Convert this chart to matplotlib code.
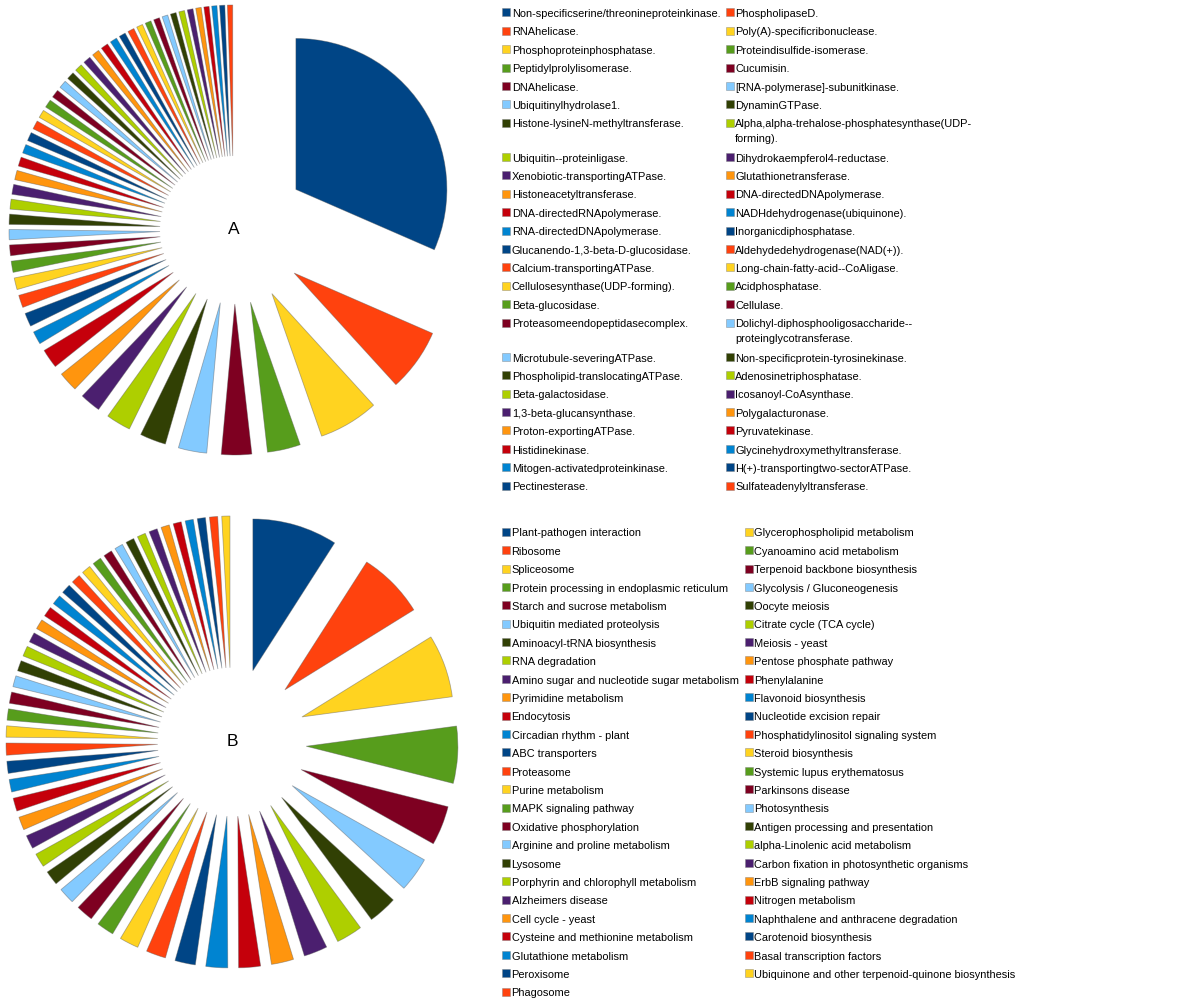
#!/usr/bin/env python3
"""Two exploded pie charts (A: enzymes, B: KEGG pathways) with side legends."""

import matplotlib

matplotlib.use("Agg")
import matplotlib.pyplot as plt
from matplotlib import font_manager
from matplotlib.patches import Rectangle

# LibreOffice default chart palette
PALETTE = [
    "#004586", "#ff420e", "#ffd320", "#579d1c", "#7e0021", "#83caff",
    "#314004", "#aecf00", "#4b1f6f", "#ff950e", "#c5000b", "#0084d1",
]

a_labels = [
    "Non-specificserine/threonineproteinkinase.",
    "RNAhelicase.",
    "Phosphoproteinphosphatase.",
    "Peptidylprolylisomerase.",
    "DNAhelicase.",
    "Ubiquitinylhydrolase1.",
    "Histone-lysineN-methyltransferase.",
    "Ubiquitin--proteinligase.",
    "Xenobiotic-transportingATPase.",
    "Histoneacetyltransferase.",
    "DNA-directedRNApolymerase.",
    "RNA-directedDNApolymerase.",
    "Glucanendo-1,3-beta-D-glucosidase.",
    "Calcium-transportingATPase.",
    "Cellulosesynthase(UDP-forming).",
    "Beta-glucosidase.",
    "Proteasomeendopeptidasecomplex.",
    "Microtubule-severingATPase.",
    "Phospholipid-translocatingATPase.",
    "Beta-galactosidase.",
    "1,3-beta-glucansynthase.",
    "Proton-exportingATPase.",
    "Histidinekinase.",
    "Mitogen-activatedproteinkinase.",
    "Pectinesterase.",
    "PhospholipaseD.",
    "Poly(A)-specificribonuclease.",
    "Proteindisulfide-isomerase.",
    "Cucumisin.",
    "[RNA-polymerase]-subunitkinase.",
    "DynaminGTPase.",
    "Alpha,alpha-trehalose-phosphatesynthase(UDP-\nforming).",
    "Dihydrokaempferol4-reductase.",
    "Glutathionetransferase.",
    "DNA-directedDNApolymerase.",
    "NADHdehydrogenase(ubiquinone).",
    "Inorganicdiphosphatase.",
    "Aldehydedehydrogenase(NAD(+)).",
    "Long-chain-fatty-acid--CoAligase.",
    "Acidphosphatase.",
    "Cellulase.",
    "Dolichyl-diphosphooligosaccharide--\nproteinglycotransferase.",
    "Non-specificprotein-tyrosinekinase.",
    "Adenosinetriphosphatase.",
    "Icosanoyl-CoAsynthase.",
    "Polygalacturonase.",
    "Pyruvatekinase.",
    "Glycinehydroxymethyltransferase.",
    "H(+)-transportingtwo-sectorATPase.",
    "Sulfateadenylyltransferase.",
]
a_values = [
    113, 24, 23, 12.7, 11.6, 10.9, 10, 9.5, 8, 7.6, 7.4, 5,
    5.2, 4.8, 4.5, 4.3, 4.1, 3.9, 3.9, 3.8, 3.8, 3.6,
    3.5, 3.4, 3.3, 3.3, 3.1, 3.1, 3.1, 3.0, 2.9, 2.9,
    2.9, 2.8, 2.8, 2.7, 2.5, 2.5, 2.4, 2.3, 2.3, 2.2,
    2.2, 2.2, 2.2, 2.1, 2.0, 2.0, 2.0, 2.0,
]

b_labels = [
    "Plant-pathogen interaction",
    "Ribosome",
    "Spliceosome",
    "Protein processing in endoplasmic reticulum",
    "Starch and sucrose metabolism",
    "Ubiquitin mediated proteolysis",
    "Aminoacyl-tRNA biosynthesis",
    "RNA degradation",
    "Amino sugar and nucleotide sugar metabolism",
    "Pyrimidine metabolism",
    "Endocytosis",
    "Circadian rhythm - plant",
    "ABC transporters",
    "Proteasome",
    "Purine metabolism",
    "MAPK signaling pathway",
    "Oxidative phosphorylation",
    "Arginine and proline metabolism",
    "Lysosome",
    "Porphyrin and chlorophyll metabolism",
    "Alzheimers disease",
    "Cell cycle - yeast",
    "Cysteine and methionine metabolism",
    "Glutathione metabolism",
    "Peroxisome",
    "Phagosome",
    "Glycerophospholipid metabolism",
    "Cyanoamino acid metabolism",
    "Terpenoid backbone biosynthesis",
    "Glycolysis / Gluconeogenesis",
    "Oocyte meiosis",
    "Citrate cycle (TCA cycle)",
    "Meiosis - yeast",
    "Pentose phosphate pathway",
    "Phenylalanine",
    "Flavonoid biosynthesis",
    "Nucleotide excision repair",
    "Phosphatidylinositol signaling system",
    "Steroid biosynthesis",
    "Systemic lupus erythematosus",
    "Parkinsons disease",
    "Photosynthesis",
    "Antigen processing and presentation",
    "alpha-Linolenic acid metabolism",
    "Carbon fixation in photosynthetic organisms",
    "ErbB signaling pathway",
    "Nitrogen metabolism",
    "Naphthalene and anthracene degradation",
    "Carotenoid biosynthesis",
    "Basal transcription factors",
    "Ubiquinone and other terpenoid-quinone biosynthesis",
]
b_values = [
    32.4, 25.4, 24, 21.7, 15, 13.2, 11, 10, 9, 8.5, 8.3, 8.3,
    7.8, 7.5, 7.3, 6.6, 6.5, 6.2, 5.5, 5.3, 5.2, 5.0,
    5.0, 4.8, 4.6, 4.6, 4.3, 4.3, 4.3, 4.2, 4.0, 3.9,
    3.8, 3.8, 3.8, 3.7, 3.6, 3.5, 3.5, 3.4, 3.3, 3.2,
    3.2, 3.2, 3.2, 3.2, 3.1, 3.1, 3.1, 3.1, 3.1,
]

W, H = 1200, 1008
PT = 72 / 100  # px -> pt at dpi 100

names = {f.name for f in font_manager.fontManager.ttflist}
LEG_FONT = "Liberation Sans Narrow" if "Liberation Sans Narrow" in names else "Liberation Sans"
LEG_SIZE = 13.3 * PT if LEG_FONT.endswith("Narrow") else 11.0 * PT

EXPLODE = 0.49
EXTENT = 1.0 + EXPLODE


def draw_pie(fig, values, cx, cy, r_px, tag):
    ax = fig.add_axes([(cx - r_px) / W, (H - cy - r_px) / H, 2 * r_px / W, 2 * r_px / H])
    colors = [PALETTE[i % len(PALETTE)] for i in range(len(values))]
    ax.pie(
        values,
        colors=colors,
        startangle=90,
        counterclock=False,
        explode=[EXPLODE] * len(values),
        radius=1.0,
        wedgeprops=dict(edgecolor=(0.35, 0.35, 0.35, 0.45), linewidth=0.6),
    )
    ax.set_xlim(-EXTENT, EXTENT)
    ax.set_ylim(-EXTENT, EXTENT)
    ax.set_aspect("equal")
    ax.axis("off")
    ax.text(0, 0, tag, ha="center", va="center", fontsize=12.5,
            family="Liberation Sans", color="black")
    return ax


def draw_legend(lg, labels, x_cols, y0, step=18.4, wrap=15.9):
    n = len(labels)
    n_rows = (n + 1) // 2
    y = y0
    for r in range(n_rows):
        idxs = [r, r + n_rows]
        nlines = 1
        for c, i in enumerate(idxs):
            if i >= n:
                continue
            mx, tx = x_cols[c]
            lg.add_patch(Rectangle((mx, y - 4), 8, 8, facecolor=PALETTE[i % len(PALETTE)],
                                   edgecolor=(0.5, 0.5, 0.5, 0.6), linewidth=0.5))
            lines = labels[i].split("\n")
            nlines = max(nlines, len(lines))
            for k, line in enumerate(lines):
                lg.text(tx, y + 4.7 + k * 15, line, ha="left", va="baseline",
                        fontsize=LEG_SIZE, family=LEG_FONT, color="black")
        y += step + wrap * (nlines - 1)


def main():
    fig = plt.figure(figsize=(W / 100, H / 100), dpi=100)
    fig.patch.set_facecolor("white")

    lg = fig.add_axes([0, 0, 1, 1])
    lg.set_xlim(0, W)
    lg.set_ylim(H, 0)
    lg.axis("off")

    draw_pie(fig, a_values, 234, 230, 225, "A")
    draw_pie(fig, b_values, 232, 742, 226, "B")

    draw_legend(lg, a_labels, [(502, 512), (725.5, 735)], 12.3)
    draw_legend(lg, b_labels, [(502, 511.5), (744.5, 754)], 531.7)

    fig.savefig("out.png", dpi=100, facecolor="white")
    plt.close(fig)


if __name__ == "__main__":
    main()
